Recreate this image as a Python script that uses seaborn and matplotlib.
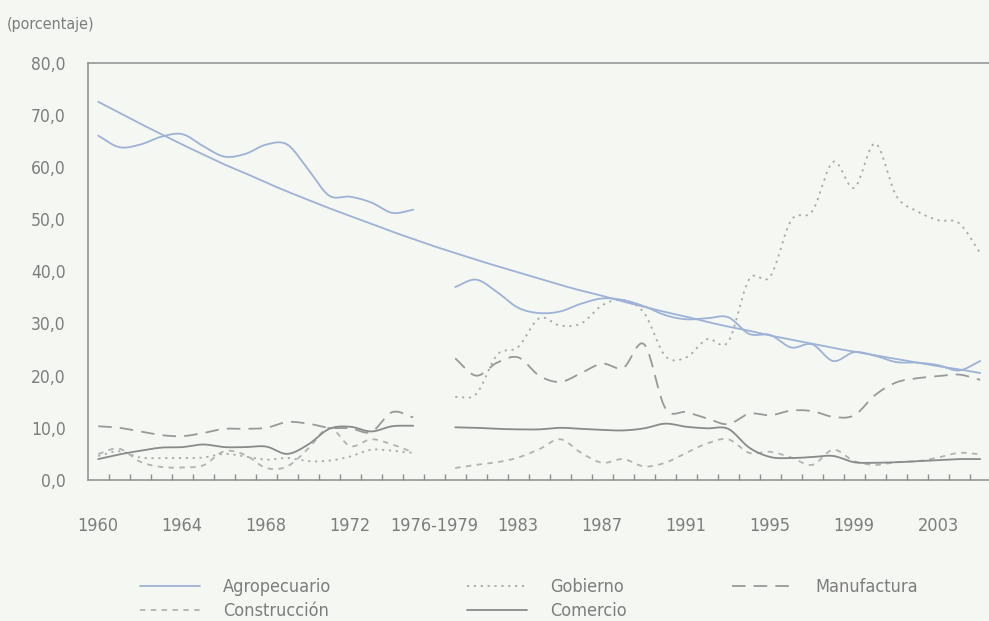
import numpy as np
import pandas as pd
import matplotlib
matplotlib.use("Agg")
import matplotlib.pyplot as plt
from matplotlib.lines import Line2D
from matplotlib import font_manager as fm
import seaborn as sns

# ---------------- data ----------------
years_a = list(range(1960, 1976))          # first block
years_b = list(range(1980, 2006))          # second block
gap_label = "1976-1979"
tick_labels = ["1960", "1964", "1968", "1972", "1976-1979", "1983",
               "1987", "1991", "1995", "1999", "2003"]
yticks = [0, 10, 20, 30, 40, 50, 60, 70, 80]

agro_a = [66.0, 63.8, 64.3, 65.8, 66.3, 64.0, 62.0, 62.5, 64.3, 64.3,
          59.5, 54.5, 54.3, 53.2, 51.2, 51.8]
agro_b = [37.0, 38.4, 36.0, 33.0, 32.0, 32.3, 33.8, 34.8, 34.5, 33.3,
          31.6, 30.8, 31.0, 31.2, 28.0, 27.8, 25.4, 26.0, 22.8, 24.5,
          23.8, 22.6, 22.5, 22.0, 21.0, 22.8]
# trend of Agropecuario (continuous over the whole axis, 43 slots)
agro_trend = [72.5, 70.4, 68.3, 66.3, 64.3, 62.4, 60.5, 58.8, 57.0, 55.3,
              53.7, 52.1, 50.6, 49.1, 47.6, 46.2, 44.8, 43.5, 42.2, 41.0,
              39.8, 38.6, 37.4, 36.3, 35.3, 34.2, 33.2, 32.2, 31.3, 30.3,
              29.4, 28.6, 27.7, 26.9, 26.1, 25.3, 24.6, 23.9, 23.2, 22.5,
              21.8, 21.2, 20.5]

constr_a = [5.0, 6.0, 3.5, 2.5, 2.4, 2.8, 5.5, 4.8, 2.3, 2.6,
            6.0, 10.0, 6.5, 7.8, 6.8, 5.3]
constr_b = [2.3, 2.9, 3.4, 4.3, 5.9, 7.8, 5.2, 3.3, 4.0, 2.6,
            3.3, 5.2, 7.0, 7.8, 5.2, 5.4, 4.3, 2.9, 5.8, 3.6,
            2.9, 3.4, 3.6, 4.3, 5.2, 4.9]

gob_a = [4.6, 5.5, 4.3, 4.2, 4.2, 4.3, 5.0, 4.5, 3.9, 4.2,
         3.6, 3.7, 4.5, 5.8, 5.6, 5.2]
gob_b = [15.9, 16.5, 24.0, 25.5, 31.0, 29.6, 30.0, 33.5, 34.5, 32.0,
         23.8, 23.5, 27.0, 26.5, 38.5, 39.0, 49.8, 51.5, 61.0, 56.0,
         64.5, 54.5, 51.5, 49.8, 49.2, 43.5]

com_a = [4.0, 4.9, 5.6, 6.2, 6.3, 6.8, 6.3, 6.3, 6.4, 5.0,
         6.8, 9.8, 10.2, 9.3, 10.3, 10.4]
com_b = [10.1, 10.0, 9.8, 9.7, 9.7, 10.0, 9.8, 9.6, 9.5, 9.9,
         10.8, 10.2, 9.9, 9.8, 6.2, 4.4, 4.2, 4.4, 4.6, 3.4,
         3.3, 3.4, 3.6, 3.8, 4.0, 4.0]

manuf_a = [10.3, 10.0, 9.3, 8.6, 8.4, 9.0, 9.8, 9.8, 10.0, 11.1,
           10.8, 10.0, 9.9, 9.2, 13.0, 12.0]
manuf_b = [23.3, 20.0, 22.5, 23.5, 20.0, 18.8, 20.5, 22.3, 21.5, 26.0,
           13.8, 13.0, 11.8, 10.7, 12.7, 12.4, 13.3, 13.2, 12.1, 12.4,
           16.3, 18.7, 19.5, 19.9, 20.2, 19.2]

# ---------------- helpers ----------------
pos_a = [y - 1960 for y in years_a]        # slots 0..15
pos_b = [y - 1963 for y in years_b]        # slots 17..42 (slot 16 = gap)
pos_all = list(range(len(agro_trend)))


def smooth(xs, ys, n=16):
    """Smoothed (Catmull-Rom) rendering of a line through the points."""
    xs = np.asarray(xs, float)
    ys = np.asarray(ys, float)
    m = len(ys)
    t = np.empty(m)
    t[1:-1] = (ys[2:] - ys[:-2]) / 2.0
    t[0] = ys[1] - ys[0]
    t[-1] = ys[-1] - ys[-2]
    X, Y = [], []
    s = np.linspace(0, 1, n, endpoint=False)
    h00 = 2 * s**3 - 3 * s**2 + 1
    h10 = s**3 - 2 * s**2 + s
    h01 = -2 * s**3 + 3 * s**2
    h11 = s**3 - s**2
    for i in range(m - 1):
        dx = xs[i + 1] - xs[i]
        X.append(xs[i] + s * dx)
        Y.append(h00 * ys[i] + h10 * t[i] + h01 * ys[i + 1] + h11 * t[i + 1])
    X.append([xs[-1]])
    Y.append([ys[-1]])
    return pd.DataFrame({"x": np.concatenate(X), "y": np.concatenate(Y)})


# ---------------- style ----------------
sns.set_theme(style="white")
plt.rcParams["font.family"] = ["DejaVu Sans"]
plt.rcParams["font.stretch"] = "condensed"

# check whether a condensed face is really available
_fp = fm.findfont(fm.FontProperties(family="DejaVu Sans", stretch="condensed"))
condensed = "Condensed" in _fp
scale = 1.0 if condensed else 0.86

bg = "#f4f7f2"
txt = "#7d7d7d"
spine_c = "#8e8e8e"
blue = "#9db2d6"
c_com = "#8a8a8a"
c_man = "#999999"
c_gob = "#a8a8a8"
c_con = "#b2b2b2"

fig = plt.figure(figsize=(9.89, 6.21), dpi=100, facecolor=bg)
ax = fig.add_axes([0.0887, 0.2271, 0.9113, 0.672], facecolor=bg)

lw = 1.3
styles = {
    "Agropecuario": dict(color=blue, linestyle="-"),
    "Construcción": dict(color=c_con, linestyle=(0, (3.0, 3.0))),
    "Gobierno": dict(color=c_gob, linestyle=(0, (1.2, 2.6))),
    "Comercio": dict(color=c_com, linestyle="-"),
    "Manufactura": dict(color=c_man, linestyle=(0, (7.5, 4.5))),
}

series = {
    "Construcción": (constr_a, constr_b),
    "Gobierno": (gob_a, gob_b),
    "Manufactura": (manuf_a, manuf_b),
    "Comercio": (com_a, com_b),
    "Agropecuario": (agro_a, agro_b),
}

for name, (va, vb) in series.items():
    for xs, vs in ((pos_a, va), (pos_b, vb)):
        d = smooth(xs, vs)
        sns.lineplot(data=d, x="x", y="y", ax=ax, sort=False, lw=lw,
                     legend=False, **styles[name])

d = smooth(pos_all, agro_trend)
sns.lineplot(data=d, x="x", y="y", ax=ax, sort=False, lw=lw, legend=False,
             color=blue)

# ---------------- axes ----------------
ax.set_xlim(-0.5, -0.5 + 901.3 / 21.0)
ax.set_ylim(0, 80)
ax.set_xlabel("")
ax.set_ylabel("")

ax.set_yticks(yticks)
ax.set_yticklabels([f"{v:.1f}".replace(".", ",") for v in yticks])
ax.set_xticks([0, 4, 8, 12, 16, 20, 24, 28, 32, 36, 40])
ax.set_xticklabels(tick_labels)
ax.set_xticks(np.arange(0.5, 42.0, 1.0), minor=True)

ax.tick_params(axis="x", which="major", length=0, pad=27,
               labelsize=13 * scale, labelcolor=txt)
ax.tick_params(axis="x", which="minor", direction="in", length=4.5,
               width=1.0, color=spine_c, bottom=True)
ax.tick_params(axis="y", which="major", direction="in", length=5,
               width=1.0, color=spine_c, pad=16, labelsize=12.5 * scale,
               labelcolor=txt)

for side in ("left", "bottom", "top"):
    ax.spines[side].set_color(spine_c)
    ax.spines[side].set_linewidth(1.1)
ax.spines["right"].set_visible(False)

fig.text(7 / 989, 1 - 25 / 621, "(porcentaje)", color=txt,
         fontsize=11.5 * scale, va="center", ha="left")

# ---------------- legend (three columns) ----------------
def handle(name):
    return Line2D([], [], lw=lw, **styles[name])

fs_leg = 13 * scale
px_per_em = fs_leg * 100 / 72
cols = [
    (140, ["Agropecuario", "Construcción"]),
    (467, ["Gobierno", "Comercio"]),
    (732, ["Manufactura"]),
]
for xpx, names in cols:
    fig.legend([handle(n) for n in names], names,
               loc="upper left", bbox_to_anchor=(xpx / 989, 1 - 578 / 621),
               frameon=False, fontsize=fs_leg, labelcolor=txt,
               handlelength=60 / px_per_em, handletextpad=23 / px_per_em,
               labelspacing=0.35, borderpad=0, borderaxespad=0)

fig.savefig("out.png", dpi=100, facecolor=bg)
